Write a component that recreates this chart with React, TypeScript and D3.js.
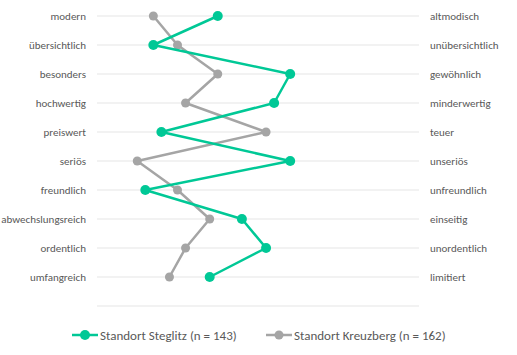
import React from "react";
import { scaleLinear, scalePoint, line } from "d3";

// Semantic differential: two locations compared
const leftLabels = [
  "modern",
  "übersichtlich",
  "besonders",
  "hochwertig",
  "preiswert",
  "seriös",
  "freundlich",
  "abwechslungsreich",
  "ordentlich",
  "umfangreich",
];
const rightLabels = [
  "altmodisch",
  "unübersichtlich",
  "gewöhnlich",
  "minderwertig",
  "teuer",
  "unseriös",
  "unfreundlich",
  "einseitig",
  "unordentlich",
  "limitiert",
];
const steglitz = [2.5, 1.7, 3.4, 3.2, 1.8, 3.4, 1.6, 2.8, 3.1, 2.4];
const kreuzberg = [1.7, 2.0, 2.5, 2.1, 3.1, 1.5, 2.0, 2.4, 2.1, 1.9];
const seriesNames = ["Standort Steglitz (n = 143)", "Standort Kreuzberg (n = 162)"];

const width = 517;
const height = 355;
const plot = { left: 97, right: 419, top: 16, rowStep: 29 };
const green = "#00C896";
const gray = "#A5A5A5";
const textColor = "#595959";
const font = "Carlito, Lato, 'Liberation Sans', sans-serif";

const App = () => {
  const xScale = scaleLinear().domain([1, 5]).range([plot.left, plot.right]);
  const yScale = scalePoint<number>()
    .domain(leftLabels.map((_, i) => i))
    .range([plot.top, plot.top + plot.rowStep * (leftLabels.length - 1)]);

  // one extra grid line below the last row
  const gridYs = leftLabels.map((_, i) => yScale(i) as number);
  gridYs.push(gridYs[gridYs.length - 1] + plot.rowStep);

  const makePath = (values: number[]) =>
    line<number>()
      .x((d) => xScale(d))
      .y((_, i) => yScale(i) as number)(values);

  const series = [
    { name: seriesNames[0], values: steglitz, color: green, r: 5 },
    { name: seriesNames[1], values: kreuzberg, color: gray, r: 4.5 },
  ];
  const legendX = [72, 266];
  const legendY = 335;

  return (
    <svg
      width={width}
      height={height}
      style={{ position: "absolute", left: 0, top: 0, fontFamily: font }}
    >
      <rect width={width} height={height} fill="white" />
      {gridYs.map((y, i) => (
        <line
          key={i}
          x1={plot.left}
          x2={plot.right}
          y1={y}
          y2={y}
          stroke="#E6E6E6"
          strokeWidth={1.2}
        />
      ))}
      {leftLabels.map((label, i) => (
        <text
          key={"l" + i}
          x={86}
          y={yScale(i)}
          dy="0.35em"
          textAnchor="end"
          fontSize={11}
          fill={textColor}
        >
          {label}
        </text>
      ))}
      {rightLabels.map((label, i) => (
        <text
          key={"r" + i}
          x={430}
          y={yScale(i)}
          dy="0.35em"
          fontSize={11}
          fill={textColor}
        >
          {label}
        </text>
      ))}
      {series
        .slice()
        .reverse()
        .map((s) => (
          <g key={s.name}>
            <path
              d={makePath(s.values) || ""}
              fill="none"
              stroke={s.color}
              strokeWidth={2.5}
              strokeLinejoin="round"
            />
            {s.values.map((v, i) => (
              <circle
                key={i}
                cx={xScale(v)}
                cy={yScale(i)}
                r={s.r}
                fill={s.color}
              />
            ))}
          </g>
        ))}
      {series.map((s, i) => (
        <g key={"leg" + i} transform={`translate(${legendX[i]},${legendY})`}>
          <line x1={0} x2={26} y1={0} y2={0} stroke={s.color} strokeWidth={2.5} />
          <circle cx={13} cy={0} r={s.r} fill={s.color} />
          <text x={28} y={0} dy="0.35em" fontSize={13} fill={textColor}>
            {s.name}
          </text>
        </g>
      ))}
    </svg>
  );
};

export default App;
